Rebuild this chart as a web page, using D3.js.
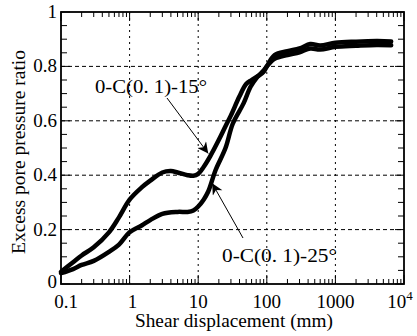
<!DOCTYPE html>
<html><head><meta charset="utf-8">
<script src="https://cdn.jsdelivr.net/npm/d3@7"></script>
<style>body{margin:0;background:#fff}svg{display:block}text{font-family:"Liberation Serif","Times New Roman","DejaVu Serif",serif}</style>
</head><body>
<svg id="c" width="417" height="336"></svg>
<script>
// ---- data ----
const x15 = [0.1, 0.15, 0.2, 0.3, 0.5, 0.7, 1, 1.5, 2, 3, 4, 5, 7, 8.5, 10, 12, 15, 20, 25, 30, 40, 50, 60, 75, 90, 100, 130, 200, 300, 430, 600, 1000, 2000, 4000, 6500];
const y15 = [0.045, 0.08, 0.105, 0.135, 0.19, 0.245, 0.31, 0.355, 0.38, 0.41, 0.415, 0.41, 0.40, 0.398, 0.405, 0.43, 0.47, 0.53, 0.58, 0.62, 0.69, 0.735, 0.75, 0.765, 0.78, 0.80, 0.842, 0.856, 0.866, 0.882, 0.877, 0.887, 0.891, 0.893, 0.892];
const x25 = [0.1, 0.15, 0.2, 0.3, 0.5, 0.7, 1, 1.5, 2, 3, 5, 7, 8.5, 10, 12, 14, 18, 25, 32, 46, 58, 72, 90, 100, 130, 200, 300, 430, 600, 1000, 2000, 4000, 6500];
const y25 = [0.04, 0.055, 0.07, 0.085, 0.118, 0.145, 0.19, 0.215, 0.235, 0.258, 0.265, 0.265, 0.27, 0.285, 0.31, 0.34, 0.42, 0.50, 0.59, 0.665, 0.725, 0.76, 0.785, 0.80, 0.828, 0.842, 0.852, 0.866, 0.862, 0.872, 0.876, 0.879, 0.878];
const xTicks = [0.1, 1, 10, 100, 1000, 10000];
const xTickLabels = ["0.1", "1", "10", "100", "1000", "10^4"];
const yTicks = [0, 0.2, 0.4, 0.6, 0.8, 1];
const yTickLabels = ["0", "0.2", "0.4", "0.6", "0.8", "1"];
const label15 = "0-C(0. 1)-15°";
const label25 = "0-C(0. 1)-25°";

const svg = d3.select("#c");
const L = 61, R = 404, T = 12, B = 284;
const x = d3.scaleLog().domain([0.1, 10000]).range([L, R]);
const y = d3.scaleLinear().domain([0, 1]).range([B, T]);
const FS = 19;

// grid
const grid = svg.append("g").attr("stroke", "#000").attr("stroke-width", 1).attr("fill", "none");
[1, 10, 100, 1000].forEach(v => grid.append("line").attr("x1", x(v)).attr("x2", x(v)).attr("y1", T).attr("y2", B).attr("stroke-dasharray", "2,4"));
[0.2, 0.4, 0.6, 0.8].forEach(v => grid.append("line").attr("x1", L).attr("x2", R).attr("y1", y(v)).attr("y2", y(v)).attr("stroke-dasharray", "4,3"));

// minor/major ticks inward
const tk = svg.append("g").attr("stroke", "#000").attr("stroke-width", 1);
const minorX = [];
for (let d = 0.1; d < 10000; d *= 10) for (let k = 2; k <= 9; k++) minorX.push(d * k);
minorX.forEach(v => {
  tk.append("line").attr("x1", x(v)).attr("x2", x(v)).attr("y1", B).attr("y2", B - 5);
  tk.append("line").attr("x1", x(v)).attr("x2", x(v)).attr("y1", T).attr("y2", T + 5);
});
xTicks.forEach(v => {
  tk.append("line").attr("x1", x(v)).attr("x2", x(v)).attr("y1", B).attr("y2", B - 9);
  tk.append("line").attr("x1", x(v)).attr("x2", x(v)).attr("y1", T).attr("y2", T + 9);
});
d3.range(0, 1.0001, 0.05).forEach(v => {
  const len = (Math.round(v * 100) % 20 === 0) ? 9 : 6;
  tk.append("line").attr("x1", L).attr("x2", L + len).attr("y1", y(v)).attr("y2", y(v));
  tk.append("line").attr("x1", R).attr("x2", R - len).attr("y1", y(v)).attr("y2", y(v));
});

// curves
const line = d3.line().x(d => x(d[0])).y(d => y(d[1])).curve(d3.curveCatmullRom.alpha(0.5));
const s15 = x15.map((v, i) => [v, y15[i]]);
const s25 = x25.map((v, i) => [v, y25[i]]);
[s15, s25].forEach(s => svg.append("path").datum(s).attr("d", line)
  .attr("fill", "none").attr("stroke", "#000").attr("stroke-width", 4.5)
  .attr("stroke-linejoin", "round").attr("stroke-linecap", "round"));

// frame
svg.append("rect").attr("x", L).attr("y", T).attr("width", R - L).attr("height", B - T)
  .attr("fill", "none").attr("stroke", "#000").attr("stroke-width", 1.8);

// tick labels
const tl = svg.append("g").attr("font-size", FS).attr("fill", "#000");
const xLabShift = [5, 3, 0, 0, 0, -4];
xTicks.forEach((v, i) => {
  const lab = xTickLabels[i];
  if (lab.includes("^")) {
    const [b, e] = lab.split("^");
    const t = tl.append("text").attr("x", x(v) + xLabShift[i]).attr("y", 308).attr("text-anchor", "middle");
    t.append("tspan").text(b);
    t.append("tspan").attr("dy", -8).attr("font-size", 13).text(e);
  } else {
    tl.append("text").attr("x", x(v) + xLabShift[i]).attr("y", 308).attr("text-anchor", "middle").text(lab);
  }
});
yTicks.forEach((v, i) => {
  tl.append("text").attr("x", 57).attr("y", y(v) + (v === 0 ? 4 : 6)).attr("text-anchor", "end").text(yTickLabels[i]);
});

// axis titles
svg.append("text").attr("x", 234).attr("y", 327).attr("text-anchor", "middle")
  .attr("font-size", FS).attr("textLength", 198).attr("lengthAdjust", "spacingAndGlyphs")
  .text("Shear displacement (mm)");
svg.append("text").attr("transform", "translate(25,152) rotate(-90)").attr("text-anchor", "middle")
  .attr("font-size", FS).attr("textLength", 204).attr("lengthAdjust", "spacingAndGlyphs")
  .text("Excess pore pressure ratio");

// annotations
svg.append("defs").append("marker").attr("id", "ah").attr("viewBox", "0 0 10 10")
  .attr("refX", 10).attr("refY", 5).attr("markerWidth", 16).attr("markerHeight", 11)
  .attr("markerUnits", "userSpaceOnUse").attr("orient", "auto")
  .append("path").attr("d", "M0,0 L10,5 L0,10 L3,5 Z").attr("fill", "#000");
svg.append("line").attr("x1", 167).attr("y1", 98).attr("x2", x(14)).attr("y2", y(0.48))
  .attr("stroke", "#000").attr("stroke-width", 1).attr("marker-end", "url(#ah)");
svg.append("line").attr("x1", 243).attr("y1", 238).attr("x2", x(16)).attr("y2", y(0.37))
  .attr("stroke", "#000").attr("stroke-width", 1).attr("marker-end", "url(#ah)");
svg.append("text").attr("x", 95).attr("y", 93).attr("font-size", FS)
  .attr("textLength", 112).attr("lengthAdjust", "spacingAndGlyphs").text(label15);
svg.append("text").attr("x", 222).attr("y", 262).attr("font-size", FS)
  .attr("textLength", 115).attr("lengthAdjust", "spacingAndGlyphs").text(label25);
</script>
</body></html>
